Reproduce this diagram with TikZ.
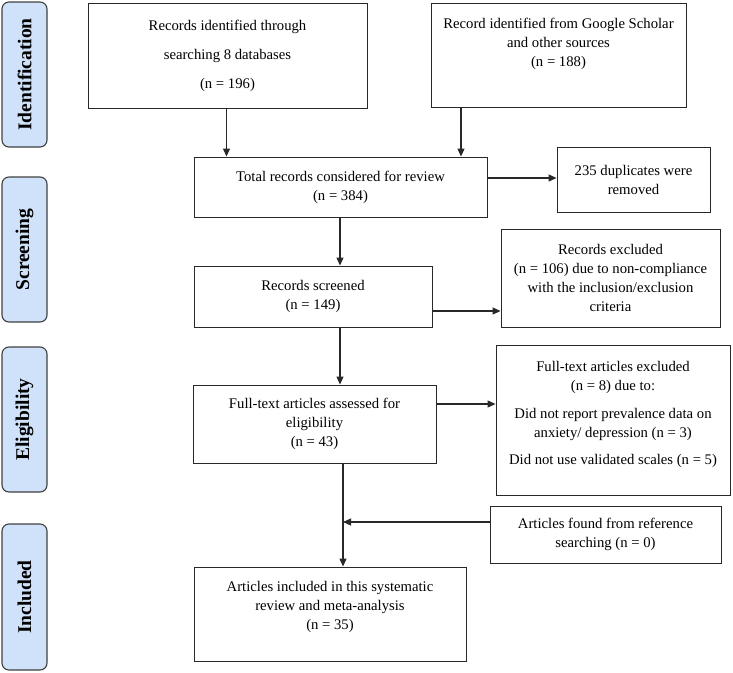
\documentclass[tikz,border=0pt]{standalone}
\usepackage{fontspec}
\setmainfont{Liberation Serif}
\usetikzlibrary{arrows.meta}
\definecolor{phaseblue}{RGB}{207,226,250}
\definecolor{lineclr}{RGB}{40,40,40}
\begin{document}
\begin{tikzpicture}[x=1pt,y=-1pt,
  box/.style={draw=lineclr, line width=0.9pt, fill=white, inner sep=0pt, align=center,
    font=\fontsize{14.7}{19}\selectfont, text=black},
  phase/.style={draw=black!75, line width=1.1pt, fill=phaseblue, rounded corners=7pt,
    inner sep=0pt, rotate=90, minimum height=45pt,
    font=\fontsize{19.5}{22}\selectfont\bfseries},
  arr/.style={line width=1.1pt, draw=lineclr, -{Triangle[length=8pt,width=7pt]}}]
\useasboundingbox (0,0) rectangle (733,672);

% phase labels
\node[phase, minimum width=145pt] (pid) at (24.5,74.5) {Identification};
\node[phase, minimum width=145pt] (psc) at (24.5,249.5) {Screening};
\node[phase, minimum width=145pt] (pel) at (24.5,419.5) {Eligibility};
\node[phase, minimum width=146pt] (pin) at (24.5,597) {Included};

% boxes
\node[box, minimum width=279pt, minimum height=105pt, font=\fontsize{14.7}{29}\selectfont] (A) at (227.5,55.5)
  {Records identified through\\searching 8 databases\\(n = 196)};
\node[box, minimum width=255pt, minimum height=104pt] (B) at (558.5,55)
  {Record identified from Google Scholar\\and other sources\\(n = 188)\rule[-26pt]{0pt}{0pt}};
\node[box, minimum width=293pt, minimum height=60pt] (C) at (340.5,187)
  {Total records considered for review\\(n = 384)};
\node[box, minimum width=153pt, minimum height=65pt] (D) at (633.5,179.5)
  {235 duplicates were\\removed};
\node[box, minimum width=238pt, minimum height=61pt] (E) at (313,296.5)
  {Records screened\\(n = 149)};
\node[box, minimum width=219pt, minimum height=98pt] (F) at (610.5,278)
  {Records excluded\\(n = 106) due to non-compliance\\with the inclusion/exclusion\\criteria};
\node[box, minimum width=243pt, minimum height=78pt] (G) at (314.5,424)
  {Full-text articles assessed for\\eligibility\\(n = 43)};
\node[box, minimum width=234pt, minimum height=150pt] (H) at (613,420)
  {Full-text articles excluded\\(n = 8) due to:\\[9pt]Did not report prevalence data on\\anxiety/ depression (n = 3)\\[8pt]Did not use validated scales (n = 5)\rule[-15pt]{0pt}{0pt}};
\node[box, minimum width=231pt, minimum height=57pt] (I) at (605.5,534.5)
  {Articles found from reference\\searching (n = 0)};
\node[box, minimum width=272pt, minimum height=94pt] (J) at (330,614)
  {Articles included in this systematic\\review and meta-analysis\\(n = 35)\rule[-17pt]{0pt}{0pt}};

% guide coordinates
\coordinate (xa) at (226.5,0);
\coordinate (xb) at (461,0);
\coordinate (xc) at (340,0);
\coordinate (xg) at (343,0);
\coordinate (ycd) at (0,178);
\coordinate (yef) at (0,311);
\coordinate (ygh) at (0,404);
\coordinate (yi) at (0,522);
\coordinate (jn) at (343,522);

% connectors
\draw[arr] (A.south -| xa) -- (C.north -| xa);
\draw[arr] (B.south -| xb) -- (C.north -| xb);
\draw[arr] (C.east |- ycd) -- (D.west |- ycd);
\draw[arr] (C.south -| xc) -- (E.north -| xc);
\draw[arr] (E.east |- yef) -- (F.west |- yef);
\draw[arr] (E.south -| xc) -- (G.north -| xc);
\draw[arr] (G.east |- ygh) -- (H.west |- ygh);
\draw[arr] (G.south -| xg) -- (J.north -| xg);
\draw[arr] (I.west |- yi) -- (jn);
\end{tikzpicture}
\end{document}
